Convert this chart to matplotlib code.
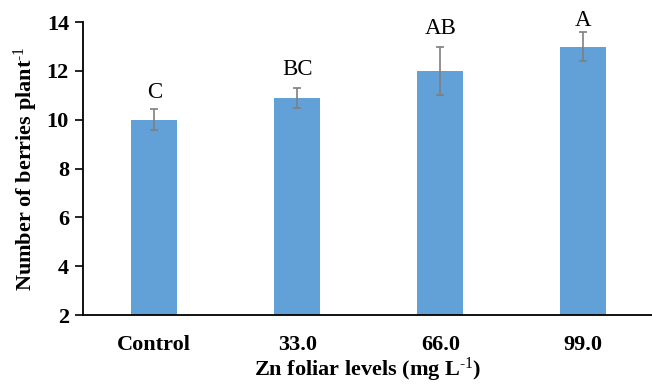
import numpy as np
import matplotlib
matplotlib.use('Agg')
import matplotlib.pyplot as plt

levels = ['Control', '33.0', '66.0', '99.0']
berries = [10.0, 10.9, 12.0, 13.0]
errors = [0.43, 0.42, 1.0, 0.6]
letters = ['C', 'BC', 'AB', 'A']
letter_gap = [0.7, 0.72, 0.72, 0.45]


def main():
    plt.rcParams['font.family'] = ['Liberation Serif', 'DejaVu Serif']
    plt.rcParams['mathtext.fontset'] = 'custom'
    plt.rcParams['mathtext.rm'] = 'Liberation Serif'
    plt.rcParams['mathtext.bf'] = 'Liberation Serif:bold'
    plt.rcParams['mathtext.default'] = 'regular'

    fig = plt.figure(figsize=(6.52, 3.88), dpi=100)
    ax = fig.add_axes([0.127, 0.188, 0.873, 0.755])

    x = np.arange(len(levels))
    ax.bar(x, np.array(berries) - 2, bottom=2, width=0.32, color='#62A0D8',
           yerr=errors, ecolor='#7F7F7F', capsize=3,
           error_kw={'elinewidth': 1.2, 'capthick': 1.2})

    for xi, m, e, t, g in zip(x, berries, errors, letters, letter_gap):
        ax.text(xi, m + e + g, t, ha='center', va='center', fontsize=16.5,
                clip_on=False)

    ax.set_ylim(2, 14)
    ax.set_yticks(np.arange(2, 15, 2))
    ax.set_xlim(-0.5, 3.48)
    ax.set_xticks(x)
    ax.set_xticklabels(levels, fontsize=16, fontweight='bold')
    for lab in ax.get_yticklabels():
        lab.set_fontsize(16)
        lab.set_fontweight('bold')
    ax.tick_params(axis='x', length=0, pad=14)
    ax.tick_params(axis='y', length=6, width=1.2, direction='out', pad=4)

    ax.spines['top'].set_visible(False)
    ax.spines['right'].set_visible(False)
    ax.spines['left'].set_linewidth(1.3)
    ax.spines['bottom'].set_linewidth(1.3)

    ax.set_ylabel('Number of berries plant$^{\\text{-1}}$', fontsize=16,
                  fontweight='bold', labelpad=5)
    ax.set_xlabel('Zn foliar levels (mg L$^{\\text{-1}}$)', fontsize=16,
                  fontweight='bold', labelpad=1)

    fig.savefig('out.png', dpi=100)


if __name__ == "__main__":
    main()
